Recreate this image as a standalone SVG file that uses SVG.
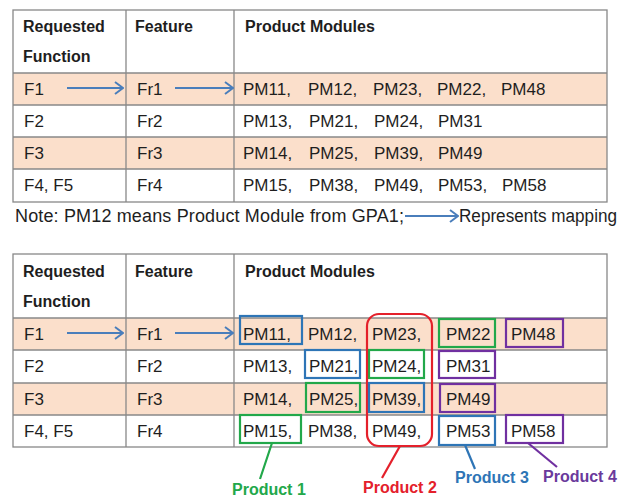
<svg xmlns="http://www.w3.org/2000/svg" width="630" height="498" viewBox="0 0 630 498">
<defs>
<style>
.bg{fill:#ffffff}
.peach{fill:#fbdfcb}
.grid{stroke:#888888;stroke-width:1.3;fill:none}
.hd{font-family:"Liberation Sans",Arial,sans-serif;font-size:16px;font-weight:bold;fill:#1e1e1e}
.tx{font-family:"Liberation Sans",Arial,sans-serif;font-size:17px;fill:#1e1e1e}
.note{font-family:"Liberation Sans",Arial,sans-serif;font-size:18px;fill:#1e1e1e}
.map{stroke:#4a7ebb;stroke-width:2;fill:none}
.lbl{font-family:"Liberation Sans",Arial,sans-serif;font-size:16px;font-weight:bold}
.bx{fill:none;stroke-width:2.2}
.g{stroke:#22a84a}.gt{fill:#22a84a}
.b{stroke:#2e75b6}.bt{fill:#2e75b6}
.p{stroke:#7030a0}.pt{fill:#6a3a9c}
.r{stroke:#e4202b}.rt{fill:#e4202b}
</style>
<marker id="ah" viewBox="0 0 10 14" refX="9" refY="7" markerWidth="10" markerHeight="14" markerUnits="userSpaceOnUse" orient="auto">
<path d="M1,1 L9,7 L1,13" fill="none" stroke="#4a7ebb" stroke-width="2"/>
</marker>
</defs>
<rect class="bg" x="0" y="0" width="630" height="498"/>

<g id="table1">
<rect class="peach" x="13" y="73" width="594" height="32"/>
<rect class="peach" x="13" y="137" width="594" height="32"/>
<rect class="grid" x="13" y="10" width="594" height="192"/>
<line class="grid" x1="13" y1="73" x2="607" y2="73"/>
<line class="grid" x1="13" y1="105" x2="607" y2="105"/>
<line class="grid" x1="13" y1="137" x2="607" y2="137"/>
<line class="grid" x1="13" y1="169" x2="607" y2="169"/>
<line class="grid" x1="126" y1="10" x2="126" y2="202"/>
<line class="grid" x1="234" y1="10" x2="234" y2="202"/>
<text class="hd" x="23" y="32">Requested</text>
<text class="hd" x="23" y="62">Function</text>
<text class="hd" x="135" y="32">Feature</text>
<text class="hd" x="245" y="32">Product Modules</text>
<text class="tx" x="24" y="95">F1</text>
<text class="tx" x="137" y="95">Fr1</text>
<text class="tx" x="243" y="95">PM11,</text><text class="tx" x="308" y="95">PM12,</text><text class="tx" x="373" y="95">PM23,</text><text class="tx" x="437" y="95">PM22,</text><text class="tx" x="501" y="95">PM48</text>
<text class="tx" x="24" y="127">F2</text>
<text class="tx" x="137" y="127">Fr2</text>
<text class="tx" x="243" y="127">PM13,</text><text class="tx" x="309" y="127">PM21,</text><text class="tx" x="374" y="127">PM24,</text><text class="tx" x="438" y="127">PM31</text>
<text class="tx" x="24" y="159">F3</text>
<text class="tx" x="137" y="159">Fr3</text>
<text class="tx" x="243" y="159">PM14,</text><text class="tx" x="309" y="159">PM25,</text><text class="tx" x="374" y="159">PM39,</text><text class="tx" x="438" y="159">PM49</text>
<text class="tx" x="24" y="191">F4, F5</text>
<text class="tx" x="137" y="191">Fr4</text>
<text class="tx" x="243" y="191">PM15,</text><text class="tx" x="309" y="191">PM38,</text><text class="tx" x="374" y="191">PM49,</text><text class="tx" x="438" y="191">PM53,</text><text class="tx" x="502" y="191">PM58</text>
</g>

<g id="note">
<text class="note" x="15" y="222" textLength="389" lengthAdjust="spacing">Note: PM12 means Product Module from GPA1;</text>
<text class="note" x="459" y="222" textLength="158" lengthAdjust="spacingAndGlyphs">Represents mapping</text>
</g>

<g id="table2">
<rect class="peach" x="13" y="318" width="594" height="32"/>
<rect class="peach" x="13" y="383" width="594" height="32"/>
<rect class="grid" x="13" y="254" width="594" height="193"/>
<line class="grid" x1="13" y1="318" x2="607" y2="318"/>
<line class="grid" x1="13" y1="350" x2="607" y2="350"/>
<line class="grid" x1="13" y1="383" x2="607" y2="383"/>
<line class="grid" x1="13" y1="415" x2="607" y2="415"/>
<line class="grid" x1="126" y1="254" x2="126" y2="447"/>
<line class="grid" x1="234" y1="254" x2="234" y2="447"/>
<text class="hd" x="23" y="277">Requested</text>
<text class="hd" x="23" y="307">Function</text>
<text class="hd" x="135" y="277">Feature</text>
<text class="hd" x="245" y="277">Product Modules</text>
<text class="tx" x="24" y="340">F1</text>
<text class="tx" x="137" y="340">Fr1</text>
<text class="tx" x="243" y="340">PM11,</text><text class="tx" x="308" y="340">PM12,</text><text class="tx" x="372" y="340">PM23,</text><text class="tx" x="446" y="340">PM22</text><text class="tx" x="511" y="340">PM48</text>
<text class="tx" x="24" y="372">F2</text>
<text class="tx" x="137" y="372">Fr2</text>
<text class="tx" x="243" y="372">PM13,</text><text class="tx" x="309" y="372">PM21,</text><text class="tx" x="372" y="372">PM24,</text><text class="tx" x="446" y="372">PM31</text>
<text class="tx" x="24" y="405">F3</text>
<text class="tx" x="137" y="405">Fr3</text>
<text class="tx" x="243" y="405">PM14,</text><text class="tx" x="309" y="405">PM25,</text><text class="tx" x="372" y="405">PM39,</text><text class="tx" x="446" y="405">PM49</text>
<text class="tx" x="24" y="437">F4, F5</text>
<text class="tx" x="137" y="437">Fr4</text>
<text class="tx" x="243" y="437">PM15,</text><text class="tx" x="308" y="437">PM38,</text><text class="tx" x="372" y="437">PM49,</text><text class="tx" x="446" y="437">PM53</text><text class="tx" x="511" y="437">PM58</text>
</g>

<g id="product1">
<rect class="bx g" x="240" y="415" width="61" height="28"/>
<rect class="bx g" x="306" y="383" width="54" height="29"/>
<rect class="bx g" x="369" y="350" width="55" height="28"/>
<rect class="bx g" x="439" y="319" width="56" height="28"/>
<text class="lbl gt" x="232" y="495">Product 1</text>
</g>
<g id="product2">
<rect class="bx r" x="367" y="314" width="65" height="132" rx="12"/>
<text class="lbl rt" x="363" y="493">Product 2</text>
</g>
<g id="product3">
<rect class="bx b" x="240" y="316" width="62" height="28"/>
<rect class="bx b" x="305" y="350" width="55" height="28"/>
<rect class="bx b" x="369" y="383" width="55" height="29"/>
<rect class="bx b" x="439" y="416" width="56" height="29"/>
<text class="lbl bt" x="455" y="483">Product 3</text>
</g>
<g id="product4">
<rect class="bx p" x="506" y="319" width="57" height="28"/>
<rect class="bx p" x="439" y="351" width="56" height="27"/>
<rect class="bx p" x="440" y="384" width="55" height="28"/>
<rect class="bx p" x="506" y="415" width="57" height="28"/>
<text class="lbl pt" x="543" y="482">Product 4</text>
</g>

<g id="connectors">
<line class="map" x1="67" y1="88" x2="123" y2="88" marker-end="url(#ah)"/>
<line class="map" x1="175" y1="88" x2="233" y2="88" marker-end="url(#ah)"/>
<line class="map" x1="405" y1="216" x2="458" y2="216" marker-end="url(#ah)"/>
<line class="map" x1="67" y1="333" x2="123" y2="333" marker-end="url(#ah)"/>
<line class="map" x1="175" y1="333" x2="233" y2="333" marker-end="url(#ah)"/>
<line class="g" stroke-width="2.2" x1="272" y1="443" x2="260" y2="479"/>
<line class="r" stroke-width="2.2" x1="400" y1="446" x2="382" y2="478"/>
<line class="b" stroke-width="2.2" x1="465" y1="445" x2="475" y2="469"/>
<line class="p" stroke-width="2.2" x1="528" y1="443" x2="557" y2="467"/>
</g>
</svg>
